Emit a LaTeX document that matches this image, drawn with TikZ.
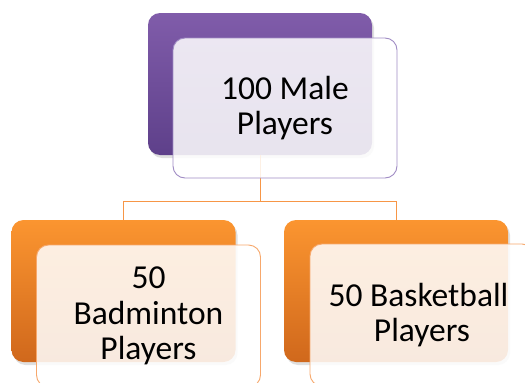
\documentclass[tikz,border=0pt]{standalone}
\usepackage{fontspec}
\setmainfont{Carlito}
\usetikzlibrary{shadows,calc}
\definecolor{purpT}{RGB}{128,92,170}
\definecolor{purpB}{RGB}{94,64,138}
\definecolor{purpL}{RGB}{160,140,196}
\definecolor{oranT}{RGB}{251,149,48}
\definecolor{oranB}{RGB}{208,104,28}
\definecolor{oranL}{RGB}{247,168,108}
\definecolor{conncol}{RGB}{247,150,70}
\tikzset{
  backbox/.style={rounded corners=12pt, minimum width=224pt, minimum height=142pt, inner sep=0pt,
    drop shadow={shadow xshift=2pt, shadow yshift=-3pt, opacity=0.25}},
  purpback/.style={backbox, top color=purpT, bottom color=purpB},
  oranback/.style={backbox, top color=oranT, bottom color=oranB},
  frontbox/.style={rounded corners=12pt, minimum width=224pt, minimum height=140pt, inner sep=0pt,
    fill=white, fill opacity=0.86, text opacity=1, line width=0.9pt, align=center,
    font=\fontsize{33.5}{35.5}\selectfont},
  conn/.style={draw=conncol, line width=1pt}
}
\begin{document}
\begin{tikzpicture}[x=1pt,y=-1pt]
\clip (0,0) rectangle (525,383);
\fill[white] (0,0) rectangle (525,383);
% back boxes
\node[purpback] (topback) at (260,84) {};
\node[oranback] (leftback) at (123.5,291) {};
\node[oranback] (rightback) at (396,291) {};
% connectors
\coordinate (hy) at (0,201);
\draw[conn] (topback.south) -- (topback.south |- hy) -| (leftback.north);
\draw[conn] (topback.south |- hy) -| (rightback.north);
% front boxes
\node[frontbox, draw=purpL] (top) at (285,108) {100 Male\\Players};
\node[frontbox, draw=oranL, minimum height=142pt] (left) at (148.5,316) {50\\Badminton\\Players};
\node[frontbox, draw=oranL, minimum height=142pt] (right) at (422,315) {\hspace*{-7pt}50 Basketball\\Players};
\end{tikzpicture}
\end{document}
